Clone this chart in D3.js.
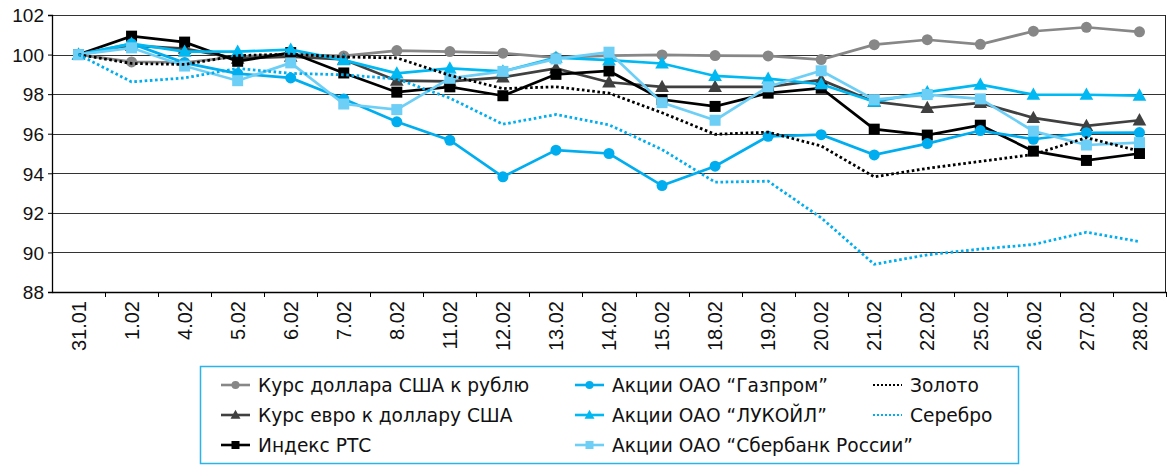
<!DOCTYPE html>
<html>
<head>
<meta charset="utf-8">
<script src="https://cdn.jsdelivr.net/npm/d3@7"></script>
<style>
  body { margin: 0; background: #fff; }
  svg { display: block; font-family: "DejaVu Sans", sans-serif; }
</style>
</head>
<body>
<div id="chart"></div>
<script>
// dates
var dates = ["31.01", "1.02", "4.02", "5.02", "6.02", "7.02", "8.02", "11.02", "12.02", "13.02", "14.02",
  "15.02", "18.02", "19.02", "20.02", "21.02", "22.02", "25.02", "26.02", "27.02", "28.02"];
var yTicks = [88, 90, 92, 94, 96, 98, 100, 102];

var usdRub   = [100, 99.63, 99.6, 99.9, 100.0, 99.93, 100.2, 100.15, 100.07, 99.85, 99.95, 99.98, 99.95, 99.93, 99.75, 100.5, 100.75, 100.52, 101.18, 101.38, 101.15];
var eurUsd   = [100, 100.45, 100.3, 99.8, 99.9, 99.75, 98.68, 98.65, 98.85, 99.3, 98.6, 98.37, 98.37, 98.37, 98.72, 97.62, 97.3, 97.56, 96.8, 96.4, 96.68];
var rts      = [100, 100.93, 100.63, 99.66, 100.1, 99.07, 98.1, 98.37, 97.92, 99.0, 99.17, 97.73, 97.38, 98.05, 98.3, 96.23, 95.93, 96.43, 95.12, 94.65, 95.0];
var gazprom  = [100, 100.55, 99.58, 99.04, 98.82, 97.76, 96.6, 95.67, 93.82, 95.17, 95.0, 93.38, 94.36, 95.87, 95.95, 94.93, 95.5, 96.16, 95.72, 96.05, 96.06];
var lukoil   = [100, 100.55, 100.15, 100.15, 100.25, 99.72, 99.05, 99.3, 99.15, 99.85, 99.72, 99.55, 98.92, 98.78, 98.5, 97.62, 98.1, 98.48, 97.98, 97.97, 97.93];
var sber     = [100, 100.34, 99.42, 98.68, 99.58, 97.5, 97.22, 98.8, 99.15, 99.78, 100.12, 97.57, 96.68, 98.37, 99.18, 97.72, 97.98, 97.76, 96.13, 95.43, 95.55];
var gold     = [100, 99.55, 99.5, 99.95, 100.02, 99.88, 99.83, 98.95, 98.28, 98.37, 98.05, 97.06, 95.97, 96.08, 95.38, 93.82, 94.25, 94.6, 94.95, 95.8, 95.12];
var silver   = [100, 98.62, 98.82, 99.3, 99.05, 98.98, 98.77, 97.8, 96.48, 96.97, 96.45, 95.2, 93.55, 93.6, 91.75, 89.4, 89.88, 90.17, 90.4, 91.02, 90.55];

var series = [
  { name: "Курс доллара США к рублю", values: usdRub, color: "#878787", marker: "circle", dotted: false },
  { name: "Курс евро к доллару США", values: eurUsd, color: "#404040", marker: "triangle", dotted: false },
  { name: "Индекс РТС", values: rts, color: "#000000", marker: "square", dotted: false },
  { name: "Акции ОАО “Газпром”", values: gazprom, color: "#00aeef", marker: "circle", dotted: false },
  { name: "Акции ОАО “ЛУКОЙЛ”", values: lukoil, color: "#00b9f2", marker: "triangle", dotted: false },
  { name: "Акции ОАО “Сбербанк России”", values: sber, color: "#6dcff6", marker: "square", dotted: false },
  { name: "Золото", values: gold, color: "#000000", marker: null, dotted: true },
  { name: "Серебро", values: silver, color: "#00aeef", marker: null, dotted: true }
];

var W = 1171, H = 465;
var margin = { top: 15, right: 5, bottom: 173, left: 52 };
var width = W - margin.left - margin.right;
var height = H - margin.top - margin.bottom;

var svg = d3.select('#chart').append('svg')
  .attr('width', W)
  .attr('height', H);

var g = svg.append('g')
  .attr('transform', 'translate(' + margin.left + ',' + margin.top + ')');

var x = d3.scaleBand().domain(dates).range([0, width]);
var y = d3.scaleLinear().domain([88, 102]).range([height, 0]);
var cx = function (i) { return x(dates[i]) + x.bandwidth() / 2; };

// grid
g.selectAll('.grid')
  .data(yTicks)
  .enter()
  .append('line')
  .attr('x1', 0)
  .attr('x2', width)
  .attr('y1', function (d) { return Math.round(y(d)) + 0.5; })
  .attr('y2', function (d) { return Math.round(y(d)) + 0.5; })
  .attr('stroke', '#333')
  .attr('stroke-width', 1.2);

// right border
g.append('line')
  .attr('x1', width - 0.5).attr('x2', width - 0.5)
  .attr('y1', 0).attr('y2', height)
  .attr('stroke', '#222');

// y axis
var yAxis = g.append('g')
  .call(d3.axisLeft(y).tickValues(yTicks).tickSize(4).tickPadding(4));
yAxis.select('.domain').attr('stroke', '#000').attr('stroke-width', 1.3);
yAxis.selectAll('text')
  .style('font-size', '19px')
  .attr('fill', '#111')
  .attr('dy', '0.36em');

// x axis
var xAxis = g.append('g')
  .attr('transform', 'translate(0,' + height + ')')
  .call(d3.axisBottom(x).tickSize(0));
xAxis.select('.domain').attr('stroke', '#000').attr('stroke-width', 1.3);
xAxis.selectAll('.tick text')
  .style('font-size', '20px')
  .attr('fill', '#111')
  .attr('text-anchor', 'end')
  .attr('transform', 'rotate(-90)')
  .attr('x', -9)
  .attr('y', 0)
  .attr('dy', '0.36em');

// ticks between categories
g.selectAll('.xtick')
  .data(dates)
  .enter()
  .append('line')
  .attr('x1', function (d) { return Math.round(x(d) + x.bandwidth()) + 0.5; })
  .attr('x2', function (d) { return Math.round(x(d) + x.bandwidth()) + 0.5; })
  .attr('y1', height)
  .attr('y2', height + 5)
  .attr('stroke', '#000');

var line = d3.line()
  .x(function (d, i) { return cx(i); })
  .y(function (d) { return y(d); });

function drawMarker(sel, type, size, color) {
  if (type === 'circle') {
    sel.append('circle').attr('r', size / 2).attr('fill', color);
  } else if (type === 'square') {
    sel.append('rect').attr('x', -size / 2).attr('y', -size / 2)
      .attr('width', size).attr('height', size).attr('fill', color);
  } else if (type === 'triangle') {
    var s = size * 0.62;
    sel.append('path')
      .attr('d', 'M0,' + (-s * 1.05) + 'L' + s + ',' + (s * 0.75) + 'L' + (-s) + ',' + (s * 0.75) + 'Z')
      .attr('fill', color);
  }
}

series.forEach(function (s) {
  var sg = g.append('g');
  sg.append('path')
    .datum(s.values)
    .attr('d', line)
    .attr('fill', 'none')
    .attr('stroke', s.color)
    .attr('stroke-width', s.dotted ? 2.8 : 2.7)
    .attr('stroke-dasharray', s.dotted ? '2.6,2.6' : null);
  if (s.marker) {
    sg.selectAll('.m')
      .data(s.values)
      .enter()
      .append('g')
      .attr('transform', function (d, i) { return 'translate(' + cx(i) + ',' + y(d) + ')'; })
      .each(function () { drawMarker(d3.select(this), s.marker, 11, s.color); });
  }
});

// legend
var legend = svg.append('g');
legend.append('rect')
  .attr('x', 200.5).attr('y', 366.5)
  .attr('width', 818).attr('height', 97)
  .attr('fill', 'none')
  .attr('stroke', '#2ab4ea')
  .attr('stroke-width', 1.5);

var colX = [221, 575, 873];
var rowY = [385, 415, 445];
var slots = [[0, 0], [0, 1], [0, 2], [1, 0], [1, 1], [1, 2], [2, 0], [2, 1]];

series.forEach(function (s, i) {
  var lx = colX[slots[i][0]], ly = rowY[slots[i][1]];
  var item = legend.append('g').attr('transform', 'translate(' + lx + ',' + ly + ')');
  item.append('line')
    .attr('x1', 0).attr('x2', 29)
    .attr('stroke', s.color)
    .attr('stroke-width', s.dotted ? 2.2 : 2.6)
    .attr('stroke-dasharray', s.dotted ? '2,2' : null);
  if (s.marker) {
    var mk = item.append('g').attr('transform', 'translate(14.5,0)');
    drawMarker(mk, s.marker, 8, s.color);
  }
  item.append('text')
    .attr('x', 37)
    .attr('dy', '0.36em')
    .style('font-size', '18.6px')
    .attr('fill', '#111')
    .text(s.name);
});
</script>
</body>
</html>
